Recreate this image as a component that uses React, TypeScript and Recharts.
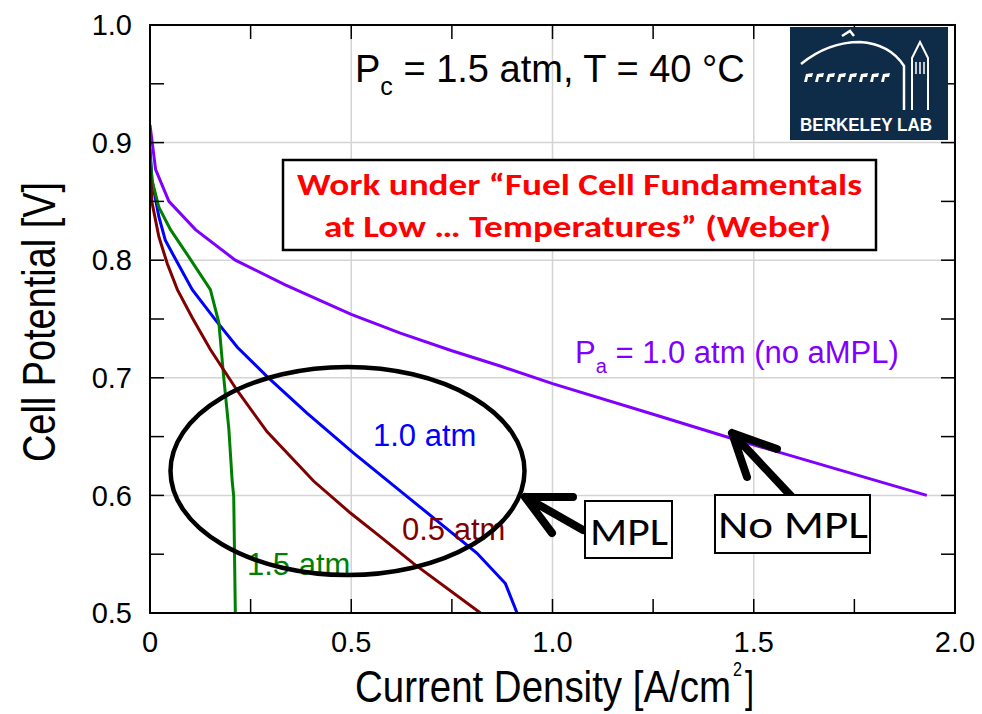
import { LineChart, Line, XAxis, YAxis, CartesianGrid } from 'recharts';

// current density [A/cm2] and cell potential [V]
const noMplX = [0, 0.014, 0.047, 0.113, 0.212, 0.336, 0.5, 0.622, 0.75, 0.87, 1.0, 1.25, 1.45, 1.7, 1.93];
const noMplV = [0.915, 0.877, 0.85, 0.826, 0.8, 0.779, 0.754, 0.738, 0.723, 0.71, 0.695, 0.669, 0.648, 0.623, 0.6];

const atm10X = [0, 0.005, 0.022, 0.038, 0.068, 0.105, 0.163, 0.217, 0.291, 0.39, 0.506, 0.639, 0.812, 0.883, 0.912];
const atm10V = [0.895, 0.868, 0.837, 0.817, 0.798, 0.775, 0.749, 0.726, 0.701, 0.67, 0.636, 0.599, 0.551, 0.525, 0.5];

const atm15X = [0, 0.005, 0.022, 0.051, 0.096, 0.15, 0.171, 0.183, 0.196, 0.204, 0.208, 0.212];
const atm15V = [0.89, 0.868, 0.845, 0.826, 0.803, 0.775, 0.747, 0.701, 0.656, 0.613, 0.599, 0.5];

const atm05X = [0, 0.005, 0.022, 0.043, 0.068, 0.105, 0.15, 0.217, 0.291, 0.407, 0.498, 0.572, 0.655, 0.821];
const atm05V = [0.88, 0.849, 0.82, 0.797, 0.775, 0.751, 0.724, 0.689, 0.654, 0.612, 0.585, 0.565, 0.542, 0.5];

const xMajor = [0, 0.5, 1, 1.5, 2];
const xTickLabels = ['0', '0.5', '1.0', '1.5', '2.0'];
const xMinorTicks = [0, 0.25, 0.5, 0.75, 1, 1.25, 1.5, 1.75, 2];
const yMajor = [0.5, 0.6, 0.7, 0.8, 0.9, 1.0];
const yTickLabels = ['0.5', '0.6', '0.7', '0.8', '0.9', '1.0'];
const yMinorTicks = [0.5, 0.55, 0.6, 0.65, 0.7, 0.75, 0.8, 0.85, 0.9, 0.95, 1.0];

const toPoints = (xs: number[], vs: number[]) => xs.map((x, i) => ({ x, v: vs[i] }));

const labelFor = (ticks: number[], labels: string[], v: number) => {
  const i = ticks.findIndex((t) => Math.abs(t - v) < 1e-9);
  return i >= 0 ? labels[i] : '';
};

const W = 982;
const H = 714;
const margin = { top: 25, right: 27, bottom: 61, left: 70 };
const plotLeft = 150;
const plotRight = W - margin.right;
const plotTop = margin.top;
const plotBottom = 613;
const TICK = 14;

const sans = "'Liberation Sans', Arial, sans-serif";
const narrow = "'Liberation Sans Narrow', 'Arial Narrow', 'Liberation Sans', Arial, sans-serif";
const calibri = "Carlito, Lato, 'Open Sans', sans-serif";

// x ticks: inward marks top and bottom, label for major values only
const XTick = (props: any) => {
  const { x, y, payload } = props;
  const label = labelFor(xMajor, xTickLabels, payload.value);
  return (
    <g>
      <line x1={x} y1={plotBottom} x2={x} y2={plotBottom - TICK} stroke="#000" strokeWidth={1.5} />
      <line x1={x} y1={plotTop} x2={x} y2={plotTop + TICK} stroke="#000" strokeWidth={1.5} />
      {label && (
        <text x={x} y={y} dy="0.71em" textAnchor="middle" fontFamily={sans} fontSize={29} fill="#000">
          {label}
        </text>
      )}
    </g>
  );
};

const YTick = (props: any) => {
  const { x, y, payload } = props;
  const label = labelFor(yMajor, yTickLabels, payload.value);
  return (
    <g>
      <line x1={plotLeft} y1={y} x2={plotLeft + TICK} y2={y} stroke="#000" strokeWidth={1.5} />
      <line x1={plotRight} y1={y} x2={plotRight - TICK} y2={y} stroke="#000" strokeWidth={1.5} />
      {label && (
        <text x={x} y={y} dy="0.355em" textAnchor="end" fontFamily={sans} fontSize={29} fill="#000">
          {label}
        </text>
      )}
    </g>
  );
};

const Annotations = () => (
  <svg width={W} height={H} style={{ position: 'absolute', left: 0, top: 0, pointerEvents: 'none' }}>
    {/* plot frame */}
    <rect x={plotLeft} y={plotTop} width={plotRight - plotLeft} height={plotBottom - plotTop} fill="none" stroke="#000" strokeWidth={2} />

    {/* conditions */}
    <text x={355} y={82} fontFamily={sans} fontSize={38} fill="#000">
      P<tspan fontSize={25} dy={13}>c</tspan>
      <tspan dy={-13}> = 1.5 atm, T = 40 °C</tspan>
    </text>

    {/* logo */}
    <rect x={790} y={27} width={158} height={113} fill="#0e2b47" />
    <path d="M801,64 Q828,42 860,42 Q890,44 904,66 L904,110" stroke="#fff" strokeWidth={2.5} fill="none" />
    <path d="M842,36 L850,31 L854,36" stroke="#fff" strokeWidth={2.5} fill="none" />
    {Array.from({ length: 8 }, (_, i) => (
      <path key={i} d={`M${804 + i * 11},82 l2,-8 l7,-1 l-1,4 l-4,0 l-1,5 z`} fill="#fff" />
    ))}
    <path d="M912,110 L912,58 L920,42 L928,58 L928,110" stroke="#fff" strokeWidth={2} fill="none" />
    <path d="M916,62 L916,74 M920,62 L920,74 M924,62 L924,74" stroke="#fff" strokeWidth={1.5} />
    <text x={800} y={131} fill="#fff" fontFamily={sans} fontWeight="bold" fontSize={18} textLength={132} lengthAdjust="spacingAndGlyphs">
      BERKELEY LAB
    </text>

    {/* red note */}
    <rect x={283} y={160} width={593} height={90} fill="#fff" stroke="#000" strokeWidth={2.5} />
    <text x={297} y={195} fill="#ff0000" fontFamily={calibri} fontWeight="bold" fontSize={31} textLength={565} lengthAdjust="spacingAndGlyphs">
      Work under “Fuel Cell Fundamentals
    </text>
    <text x={324} y={237} fill="#ff0000" fontFamily={calibri} fontWeight="bold" fontSize={31} textLength={507} lengthAdjust="spacingAndGlyphs">
      at Low … Temperatures” (Weber)
    </text>

    {/* curve labels */}
    <text x={575} y={363} fill="#8000ff" fontFamily={sans} fontSize={31}>
      P<tspan fontSize={20} dy={10}>a</tspan>
      <tspan dy={-10}> = 1.0 atm (no aMPL)</tspan>
    </text>
    <text x={373} y={446} fill="#0000ff" fontFamily={sans} fontSize={31}>1.0 atm</text>
    <text x={402} y={540} fill="#800000" fontFamily={sans} fontSize={31}>0.5 atm</text>
    <text x={247} y={575} fill="#008000" fontFamily={sans} fontSize={31}>1.5 atm</text>

    {/* MPL ellipse and arrows */}
    <ellipse cx={347.5} cy={471} rx={177} ry={104} fill="none" stroke="#000" strokeWidth={4.5} />
    <path d="M583,530 L525,497 M573,497 L525,497 L552,533" stroke="#000" strokeWidth={8} strokeLinecap="round" strokeLinejoin="round" fill="none" />
    <path d="M792,497 L732,433 M777,449 L732,433 L747,477" stroke="#000" strokeWidth={8} strokeLinecap="round" strokeLinejoin="round" fill="none" />

    <rect x={585} y={501} width={87} height={57} fill="#fff" stroke="#000" strokeWidth={2} />
    <text x={590} y={545} fill="#000" fontFamily={calibri} fontSize={38} textLength={78} lengthAdjust="spacingAndGlyphs">MPL</text>
    <rect x={715} y={495} width={155} height={58} fill="#fff" stroke="#000" strokeWidth={2} />
    <text x={718} y={538} fill="#000" fontFamily={calibri} fontSize={38} textLength={150} lengthAdjust="spacingAndGlyphs">No MPL</text>

    {/* axis titles */}
    <text x={355} y={702} fontFamily={narrow} fontSize={44} fill="#000" textLength={376} lengthAdjust="spacingAndGlyphs">
      Current Density [A/cm
    </text>
    <text x={733} y={676} fontFamily={narrow} fontSize={20} fill="#000" textLength={9} lengthAdjust="spacingAndGlyphs">2</text>
    <text x={745} y={702} fontFamily={narrow} fontSize={44} fill="#000" textLength={9} lengthAdjust="spacingAndGlyphs">]</text>
    <text transform="translate(55,322) rotate(-90)" textAnchor="middle" fontFamily={narrow} fontSize={46} fill="#000" textLength={280} lengthAdjust="spacingAndGlyphs">
      Cell Potential [V]
    </text>
  </svg>
);

export default function App() {
  return (
    <div style={{ position: 'absolute', left: 0, top: 0, width: W, height: H, background: '#fff' }}>
      <LineChart width={W} height={H} margin={margin}>
        <CartesianGrid stroke="#d4d4d4" strokeWidth={1.5} verticalValues={xMajor} horizontalValues={yMajor} />
        <XAxis
          dataKey="x"
          type="number"
          domain={[0, 2]}
          ticks={xMinorTicks}
          interval={0}
          allowDataOverflow
          height={H - plotBottom - margin.bottom}
          tickSize={0}
          tickMargin={18}
          tickLine={false}
          axisLine={false}
          tick={<XTick />}
        />
        <YAxis
          type="number"
          domain={[0.5, 1]}
          ticks={yMinorTicks}
          interval={0}
          allowDataOverflow
          width={plotLeft - margin.left}
          tickSize={0}
          tickMargin={18}
          tickLine={false}
          axisLine={false}
          tick={<YTick />}
        />
        <Line data={toPoints(noMplX, noMplV)} dataKey="v" type="linear" stroke="#8000ff" strokeWidth={3} dot={false} isAnimationActive={false} />
        <Line data={toPoints(atm10X, atm10V)} dataKey="v" type="linear" stroke="#0000ff" strokeWidth={3} dot={false} isAnimationActive={false} />
        <Line data={toPoints(atm15X, atm15V)} dataKey="v" type="linear" stroke="#008000" strokeWidth={3} dot={false} isAnimationActive={false} />
        <Line data={toPoints(atm05X, atm05V)} dataKey="v" type="linear" stroke="#800000" strokeWidth={3} dot={false} isAnimationActive={false} />
      </LineChart>
      <Annotations />
    </div>
  );
}
